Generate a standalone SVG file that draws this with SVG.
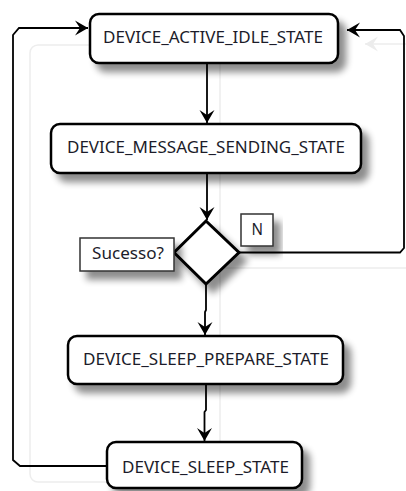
<svg xmlns="http://www.w3.org/2000/svg" width="406" height="491" viewBox="0 0 406 491">
<style>
.node{fill:#fff;stroke:#000;stroke-width:2.5;filter:url(#sh)}
.lbl{fill:#fff;stroke:#333;stroke-width:1.5;filter:url(#sh)}
.t{font-family:"Noto Sans","Open Sans","DejaVu Sans",sans-serif;font-size:16px;fill:#1c1c2a}
.c{fill:none;stroke:#000;stroke-width:1.8}
.ghost{fill:none;stroke:#ededed;stroke-width:1.5}
</style>
<defs>
<filter id="sh" x="-20%" y="-30%" width="150%" height="180%">
<feGaussianBlur in="SourceAlpha" stdDeviation="3.5"/>
<feOffset dx="7" dy="8" result="b"/>
<feComponentTransfer><feFuncA type="linear" slope="0.45"/></feComponentTransfer>
<feMerge><feMergeNode/><feMergeNode in="SourceGraphic"/></feMerge>
</filter>
<marker id="ar" markerUnits="userSpaceOnUse" markerWidth="20" markerHeight="20" orient="auto" refX="0" refY="0" overflow="visible">
<path d="M0,0 L-13,-7.5 L-8,0 L-13,7.5 Z" fill="#000"/>
</marker>
<marker id="arg" markerUnits="userSpaceOnUse" markerWidth="20" markerHeight="20" orient="auto" refX="0" refY="0" overflow="visible">
<path d="M0,0 L-13,-7.5 L-8,0 L-13,7.5 Z" fill="#ececec"/>
</marker>
</defs>
<g id="ghosts">
<rect class="ghost" x="30" y="45" width="190" height="437" rx="8"/>
<path class="ghost" d="M406,268 H222"/>
<path class="ghost" d="M406,44 H365" marker-end="url(#arg)"/>
</g>
<g id="connectors">
<path class="c" d="M207,63 V123" marker-end="url(#ar)"/>
<path class="c" d="M207,173 V220" marker-end="url(#ar)"/>
<path class="c" d="M206,284 V310 L205,312 V335" marker-end="url(#ar)"/>
<path class="c" d="M206,384 V410 L204.5,412 V441" marker-end="url(#ar)"/>
<path class="c" d="M107,466 H20 L13,460 V35 L19,28 H88" marker-end="url(#ar)"/>
<path class="c" d="M239,252.5 H400 L404,248 V36 L400,30 H347" marker-end="url(#ar)"/>
</g>
<g id="n1">
<rect class="node" x="90" y="14" width="248" height="49" rx="9"/>
<text class="t" x="103" y="43" textLength="220" lengthAdjust="spacingAndGlyphs">DEVICE_ACTIVE_IDLE_STATE</text>
</g>
<g id="n2">
<rect class="node" x="51" y="124" width="310" height="49" rx="9"/>
<text class="t" x="67" y="153" textLength="278" lengthAdjust="spacingAndGlyphs">DEVICE_MESSAGE_SENDING_STATE</text>
</g>
<g id="decision">
<path class="node" style="stroke-width:3" d="M206,221 L239,252.5 L206,284 L174,252.5 Z"/>
</g>
<g id="lbl-sucesso">
<rect class="lbl" x="80" y="238" width="94" height="33"/>
<text class="t" x="92" y="259" textLength="72" lengthAdjust="spacingAndGlyphs">Sucesso?</text>
</g>
<g id="lbl-n">
<rect class="lbl" x="241" y="214" width="32" height="32"/>
<text class="t" x="251.5" y="234.5" textLength="11.5" lengthAdjust="spacingAndGlyphs">N</text>
</g>
<g id="n3">
<rect class="node" x="68" y="336" width="275" height="48" rx="9"/>
<text class="t" x="83" y="365" textLength="246" lengthAdjust="spacingAndGlyphs">DEVICE_SLEEP_PREPARE_STATE</text>
</g>
<g id="n4">
<rect class="node" x="107" y="442" width="195" height="46" rx="9"/>
<text class="t" x="122" y="472.5" textLength="167" lengthAdjust="spacingAndGlyphs">DEVICE_SLEEP_STATE</text>
</g>
</svg>
